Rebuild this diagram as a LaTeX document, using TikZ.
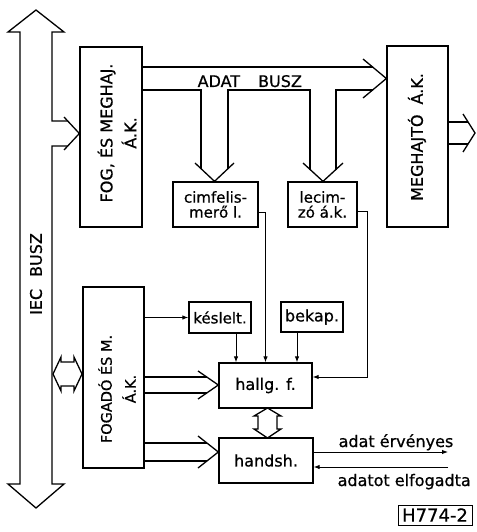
\documentclass[tikz,border=0pt]{standalone}
\usepackage{fontspec}
\setmainfont{DejaVu Sans}[FakeBold=0.7]
\usetikzlibrary{arrows.meta}
\begin{document}
\begin{tikzpicture}[x=1pt,y=-1pt, line width=1.3pt, line join=miter,
  box/.style={draw, inner sep=0pt, align=center},
  arr/.style={-{Latex[length=6pt,width=4.5pt]}, line width=1pt},
  lbl/.style={inner sep=0pt, align=center},
  fA/.style={font=\fontsize{16}{19}\selectfont},
  fB/.style={font=\fontsize{15}{15}\selectfont}]
\fill[white] (0,0) rectangle (476,532);
\useasboundingbox (0,0) rectangle (476,532);

% boxes
\node[box, minimum width=62, minimum height=180] (fog) at (111,137) {};
\node[lbl, rotate=90, fA] (fogt) at (117,133) {FOG, ÉS MEGHAJ.\\[5pt]Á.K.};
\node[box, minimum width=61, minimum height=181] (meg) at (417.5,136.5) {};
\node[lbl, rotate=90, fA] (megt) at (417,137) {MEGHAJTÓ\hspace{10pt}Á.K.};
\node[box, minimum width=85, minimum height=45, fB] (cim) at (215.5,204.5) {cimfelis-\\merő l.};
\node[box, minimum width=69, minimum height=45, fB] (lec) at (322.5,204.5) {lecim-\\zó á.k.};
\node[box, minimum width=61, minimum height=181] (fogado) at (113.5,377.5) {};
\node[lbl, rotate=90, font=\fontsize{14.5}{18}\selectfont] (fogadot) at (117,389) {FOGADÓ ÉS M.\\[6pt]Á.K.};
\node[box, minimum width=62, minimum height=31, font=\fontsize{15}{18}\selectfont] (kes) at (220,317.5) {késlelt.};
\node[box, minimum width=62, minimum height=30, fA] (bek) at (312,317) {bekap.};
\node[box, minimum width=93, minimum height=45, fA] (hallg) at (265.5,385.5) {hallg. f.};
\node[box, minimum width=94, minimum height=45, fA] (hand) at (266,460.5) {handsh.};
\node[box, minimum width=74, minimum height=20, line width=1pt, font=\fontsize{18}{20}\selectfont] (code) at (435,515) {H774-2};

% IEC bus
\draw (68,121) -- (52,121) -- (52,32) -- (64,32) -- (36,10) -- (8,32) -- (20,32)
  -- (20,484) -- (8,484) -- (36,508) -- (64,484) -- (52,484) -- (52,146) -- (68,146);
\draw (64,117) -- (fog.west |- 0,133.5) -- (64,150);
\node[lbl, rotate=90, fA] (iec) at (36,274) {IEC\hspace{12pt}BUSZ};

% ADAT BUSZ
\node[lbl, anchor=base west, fA] (adat) at (197,87) {ADAT\hspace{18pt}BUSZ};
\draw (fog.east |- 0,67) -- (372.8,67);
\draw (fog.east |- 0,90) -- (201,90) -- (201,168.8);
\draw (228,168.8) -- (228,90) -- (310,90) -- (310,169.65);
\draw (336,169.65) -- (336,90) -- (372.8,90);
\draw (363,59) -- (meg.west |- 0,78.5) -- (363,98);
\draw (195,163) -- (cim.north -| 214.5,0) -- (234,163);
\draw (303,163) -- (lec.north -| 323,0) -- (343,163);

% Meghajto output
\draw (meg.east |- 0,122) -- (468,122);
\draw (meg.east |- 0,144) -- (468,144);
\draw (463,114) -- (475,133) -- (463,152);

% FOGADO wide arrows
\draw (fogado.east |- 0,377) -- (207,377);
\draw (fogado.east |- 0,393) -- (207,393);
\draw (198,371) -- (hallg.west |- 0,385) -- (198,399);
\draw (fogado.east |- 0,443) -- (207.2,443);
\draw (fogado.east |- 0,461) -- (207.2,461);
\draw (198,436) -- (hand.west |- 0,452) -- (198,468);

% small double arrows
\draw (53,374) -- (61,357) -- (61,362) -- (74,362) -- (74,357) -- (82,374)
  -- (74,391) -- (74,386) -- (61,386) -- (61,391) -- cycle;
\draw (267.5,408) -- (281,416) -- (277,416) -- (277,429) -- (281,429) -- (267.5,438)
  -- (254,429) -- (258,429) -- (258,416) -- (254,416) -- cycle;

% thin connectors
\draw[arr] (fogado.east |- kes.west) -- (kes.west);
\draw[arr] (236,0 |- kes.south) -- (236,0 |- hallg.north);
\draw[arr] (cim.east |- 0,212) -| (hallg.north);
\draw[arr] (297,0 |- bek.south) -- (297,0 |- hallg.north);
\coordinate (lecr) at (367,211);
\draw[arr] (lec.east |- lecr) -- (lecr) |- (hallg.east |- 0,377);
\coordinate (ae) at (448,452);
\coordinate (ae2) at (448,467);
\draw[arr] (hand.east |- ae) -- (ae);
\draw[arr] (ae2) -- (hand.east |- ae2);
\node[lbl, anchor=base west, fA] (ertxt) at (338,447) {adat érvényes};
\node[lbl, anchor=base west, fA] (elftxt) at (337,486) {adatot elfogadta};
\end{tikzpicture}
\end{document}
